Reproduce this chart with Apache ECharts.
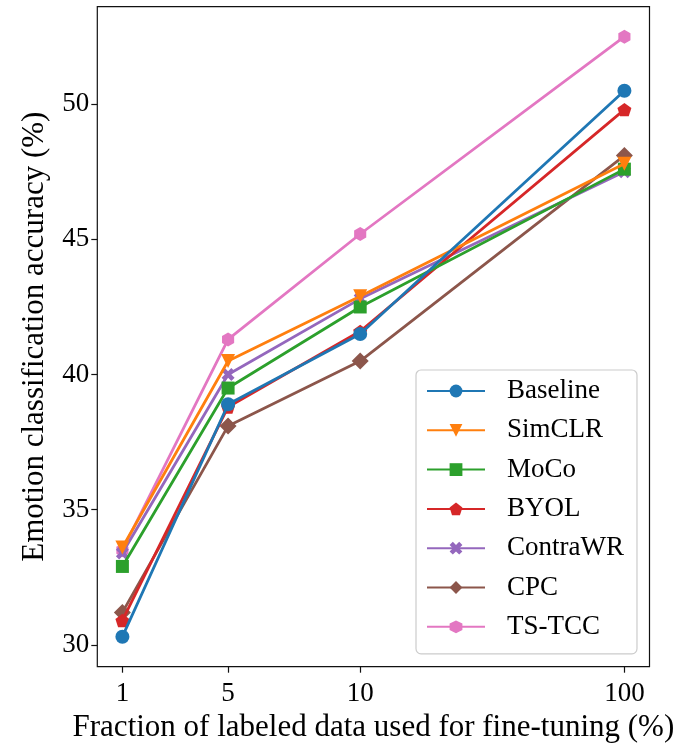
<!DOCTYPE html>
<html>
<head>
<meta charset="utf-8">
<script src="https://cdn.jsdelivr.net/npm/echarts@6/dist/echarts.min.js"></script>
<style>
  html, body { margin: 0; padding: 0; background: #fff; }
  #chart { width: 685px; height: 743px; }
</style>
</head>
<body>
<div id="chart"></div>
<script>
// Fraction of labelled data (%) used for fine-tuning
const fractions = [1, 5, 10, 100];

// Emotion classification accuracy (%) per method
const baseline = [30.3, 38.9, 41.5, 50.5];
const simclr   = [33.6, 40.5, 42.9, 47.8];
const moco     = [32.9, 39.5, 42.5, 47.6];
const byol     = [30.9, 38.8, 41.6, 49.8];
const contrawr = [33.4, 40.0, 42.8, 47.5];
const cpc      = [31.2, 38.1, 40.5, 48.1];
const tstcc    = [33.5, 41.3, 45.2, 52.5];

const yTicks = [30, 35, 40, 45, 50];

// symmetric-log style mapping: linear up to 10, logarithmic above
const LINTHRESH = 10;
function symlog(x) {
  return x <= LINTHRESH ? x : LINTHRESH + LINTHRESH * Math.log10(x / LINTHRESH);
}
const xPos = fractions.map(symlog);

// Marker shapes
const PENTAGON = 'path://M0,-1 L0.951,-0.309 L0.588,0.809 L-0.588,0.809 L-0.951,-0.309 Z';
const HEXAGON = 'path://M0,-1 L0.866,-0.5 L0.866,0.5 L0,1 L-0.866,0.5 L-0.866,-0.5 Z';
const XFILLED = 'path://M-1,-2 L0,-1 L1,-2 L2,-1 L1,0 L2,1 L1,2 L0,1 L-1,2 L-2,1 L-1,0 L-2,-1 Z';

const methods = [
  { name: 'Baseline', values: baseline, color: '#1f77b4', symbol: 'circle',   size: 14, rotate: 0 },
  { name: 'SimCLR',   values: simclr,   color: '#ff7f0e', symbol: 'triangle', size: 14, rotate: 180 },
  { name: 'MoCo',     values: moco,     color: '#2ca02c', symbol: 'rect',     size: 13, rotate: 0 },
  { name: 'BYOL',     values: byol,     color: '#d62728', symbol: PENTAGON,   size: 14, rotate: 0 },
  { name: 'ContraWR', values: contrawr, color: '#9467bd', symbol: XFILLED,    size: 13, rotate: 0 },
  { name: 'CPC',      values: cpc,      color: '#8c564b', symbol: 'diamond',  size: 17, rotate: 0 },
  { name: 'TS-TCC',   values: tstcc,    color: '#e377c2', symbol: HEXAGON,    size: 14, rotate: 0 }
];

// padded ranges (5% of the data span on each side)
function padded(vals) {
  const lo = Math.min(...vals), hi = Math.max(...vals);
  const m = (hi - lo) * 0.05;
  return [lo - m, hi + m];
}
const [xMin, xMax] = padded(xPos);
const [yMin, yMax] = padded(methods.flatMap(m => m.values));

const FONT = '"Liberation Serif", "Times New Roman", serif';
const FS = 27;
const FS_TITLE = 31;

const chart = echarts.init(document.getElementById('chart'), null, { renderer: 'canvas' });

chart.setOption({
  animation: false,
  backgroundColor: '#ffffff',
  textStyle: { fontFamily: FONT, color: '#000' },
  grid: {
    left: 97.3, right: 35.5, top: 6.7, bottom: 76.3,
    outerBoundsMode: 'none',
    containLabel: false,
    show: true, borderColor: '#111', borderWidth: 1.2, backgroundColor: 'transparent'
  },
  xAxis: {
    type: 'value',
    min: xMin, max: xMax,
    name: 'Fraction of labeled data used for fine-tuning (%)',
    nameLocation: 'middle',
    nameGap: 36,
    nameTextStyle: { fontFamily: FONT, fontSize: FS_TITLE, color: '#000' },
    axisLine: { show: false },
    splitLine: { show: false },
    axisTick: { show: true, inside: false, length: 6, customValues: xPos, lineStyle: { color: '#111', width: 1.2 } },
    axisLabel: {
      customValues: xPos,
      margin: 14,
      fontFamily: FONT, fontSize: FS, color: '#000',
      formatter: function (v) {
        for (let i = 0; i < xPos.length; i++) {
          if (Math.abs(xPos[i] - v) < 1e-6) return String(fractions[i]);
        }
        return '';
      }
    }
  },
  yAxis: {
    type: 'value',
    min: yMin, max: yMax,
    name: 'Emotion classification accuracy (%)',
    nameLocation: 'middle',
    nameGap: 47,
    nameRotate: 90,
    nameTextStyle: { fontFamily: FONT, fontSize: FS_TITLE, color: '#000' },
    axisLine: { show: false },
    splitLine: { show: false },
    axisTick: { show: true, inside: false, length: 6, customValues: yTicks, lineStyle: { color: '#111', width: 1.2 } },
    axisLabel: {
      customValues: yTicks,
      margin: 8,
      fontFamily: FONT, fontSize: FS, color: '#000'
    }
  },
  legend: {
    orient: 'vertical',
    left: 416, top: 370,
    padding: [6, 13, 12, 10],
    itemWidth: 58, itemHeight: 16, itemGap: 9.3,
    backgroundColor: 'rgba(255,255,255,0.8)',
    borderColor: '#cccccc', borderWidth: 1.2, borderRadius: 5,
    textStyle: { fontFamily: FONT, fontSize: FS, color: '#000', lineHeight: 30, padding: [0, 0, 0, 17] },
    data: methods.map(m => m.name)
  },
  series: methods.map((m, i) => ({
    name: m.name,
    type: 'line',
    z: 10 - i,
    data: xPos.map((x, j) => [x, m.values[j]]),
    symbol: m.symbol,
    symbolSize: m.size,
    symbolRotate: m.rotate,
    symbolKeepAspect: true,
    showAllSymbol: true,
    lineStyle: { color: m.color, width: 2.8 },
    itemStyle: { color: m.color, borderColor: m.color, borderWidth: 0 },
    emphasis: { disabled: true }
  }))
});
</script>
</body>
</html>
